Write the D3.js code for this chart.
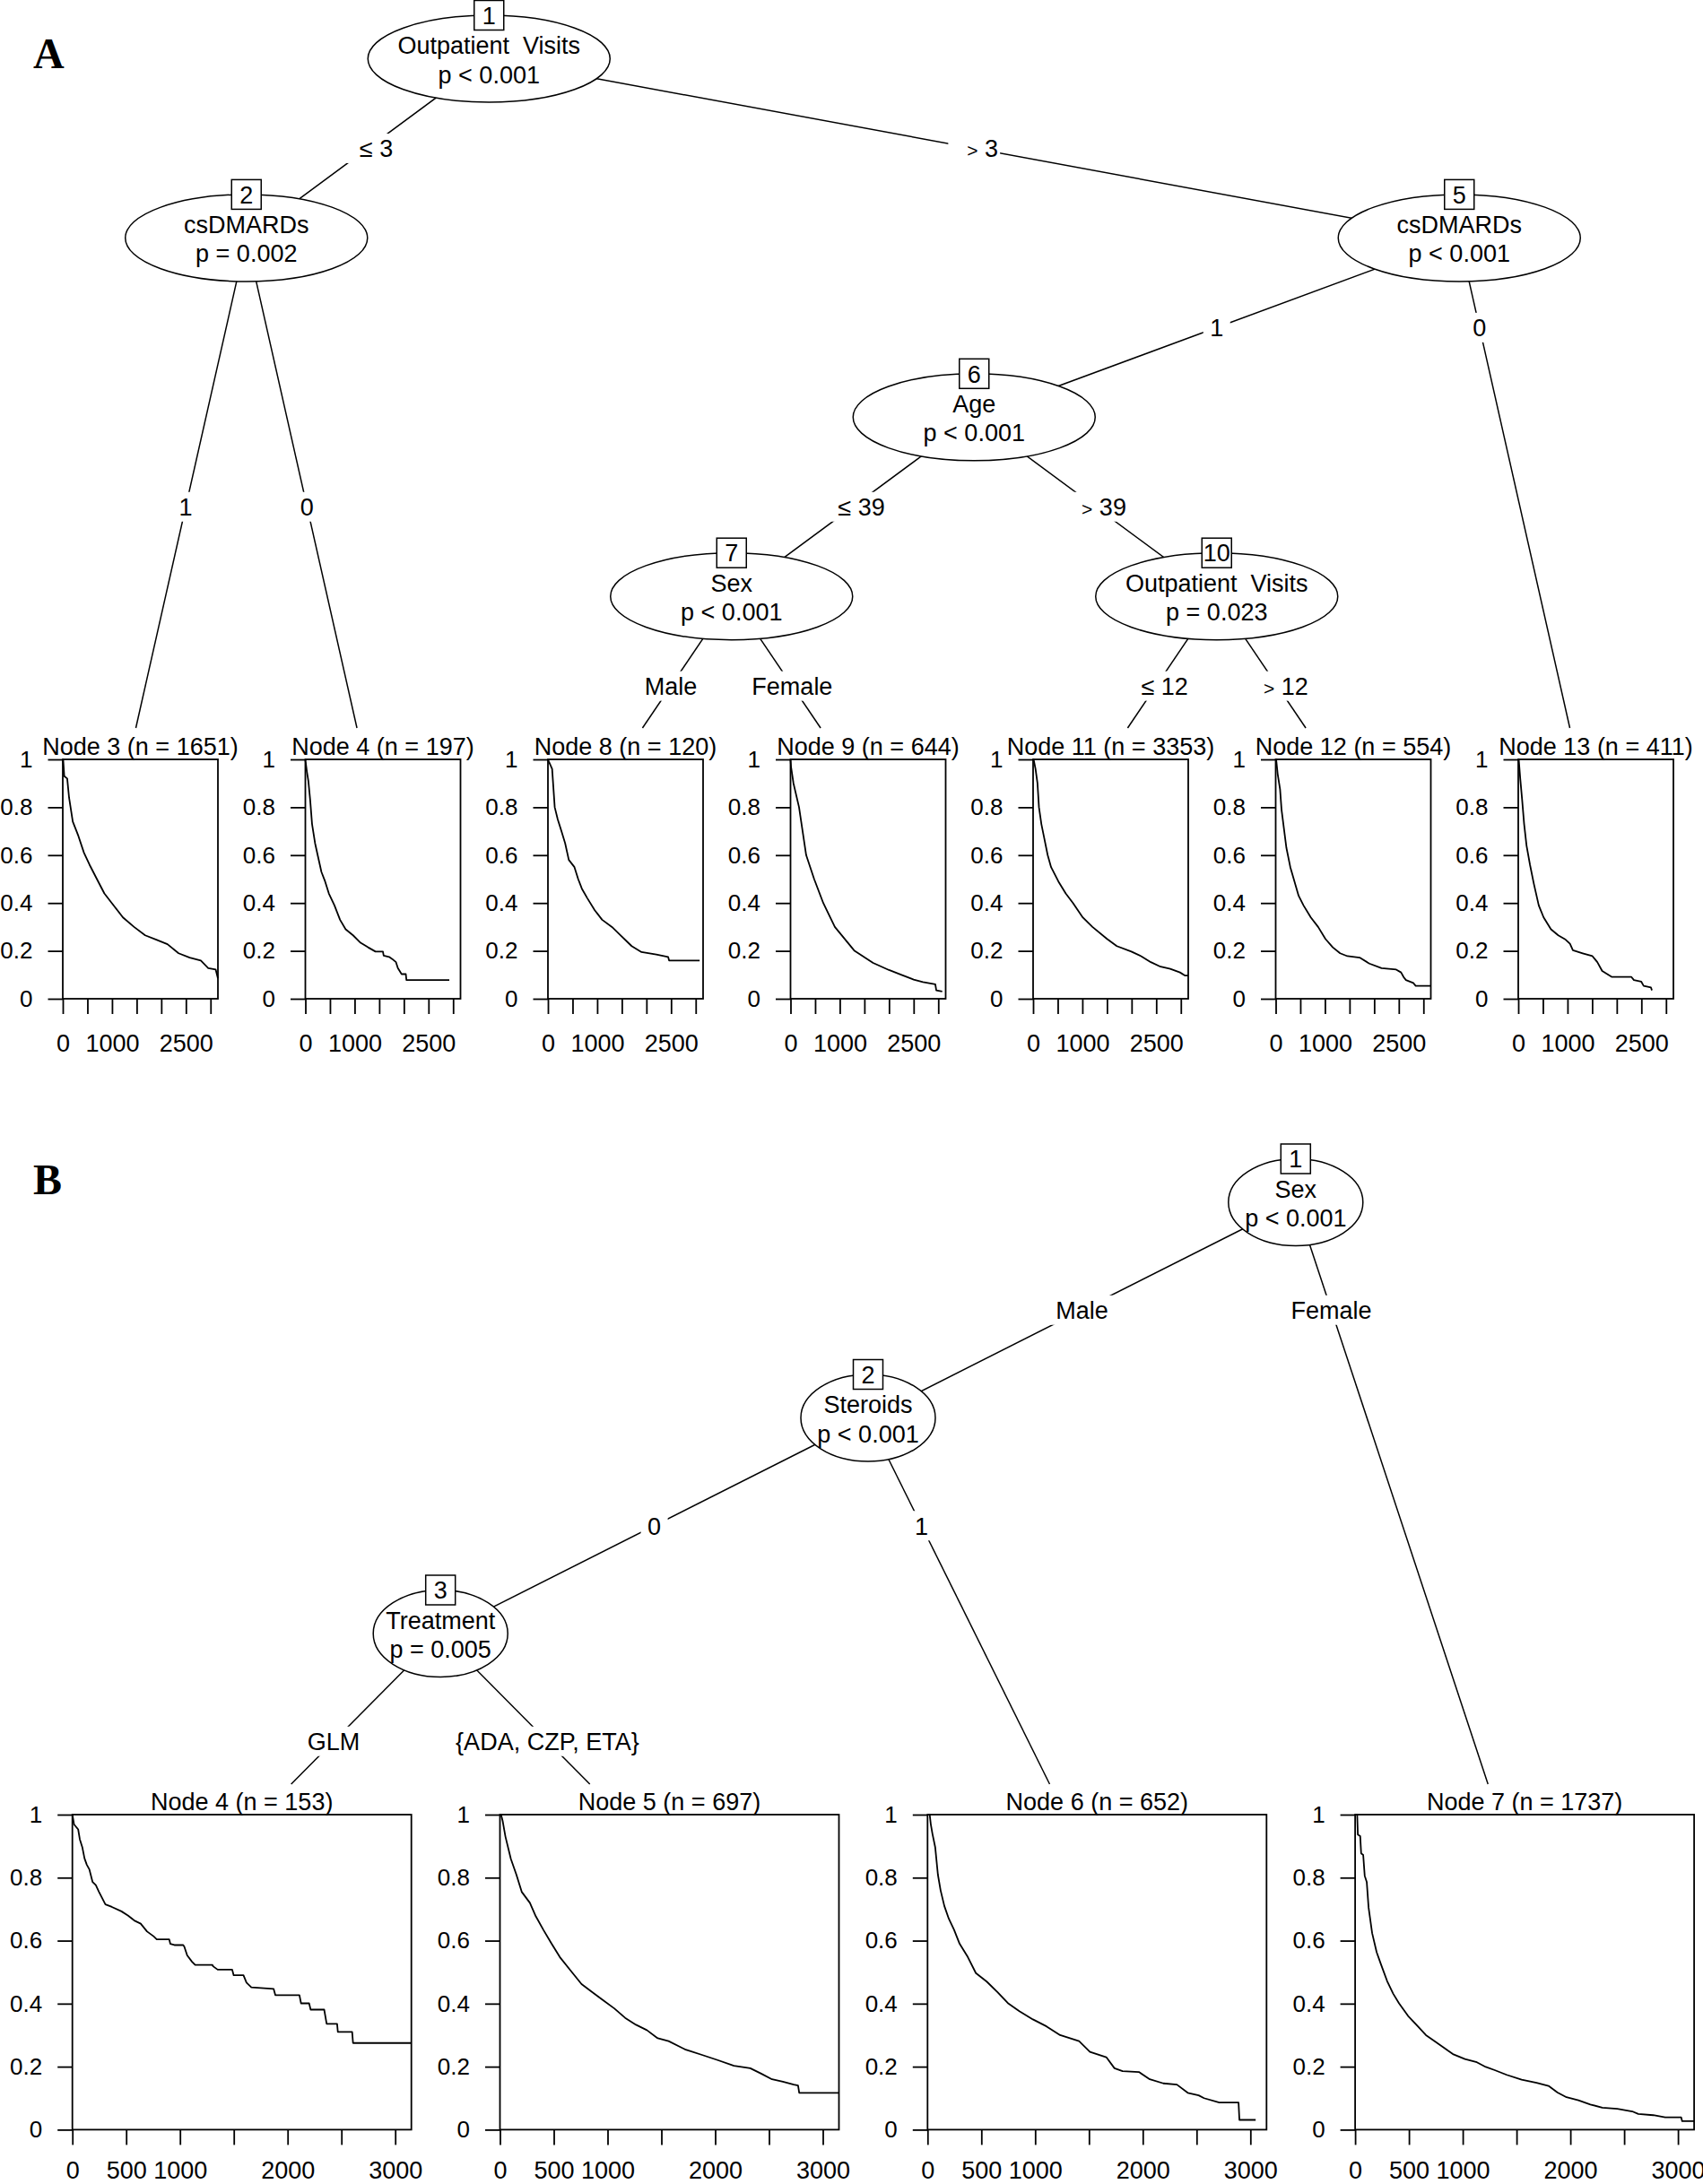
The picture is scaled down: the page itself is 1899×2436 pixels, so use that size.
<!DOCTYPE html>
<html>
<head>
<meta charset="utf-8">
<script src="https://cdn.jsdelivr.net/npm/d3@7"></script>
<style>
  body { margin: 0; background: #fff; }
  svg { display: block; }
  text { font-family: "Liberation Sans", Arial, Helvetica, sans-serif; font-size: 27px; fill: #000; }
</style>
</head>
<body>
<svg id="chart" width="1899" height="2436"></svg>
<script>
// ---- tree A (ctree, survival) ----
var nodesA = [
  {id: 1, kids: [2, 5], variable: "Outpatient  Visits", p: "p < 0.001", splits: ["≤ 3", "> 3"]},
  {id: 2, kids: [3, 4], variable: "csDMARDs", p: "p = 0.002", splits: ["1", "0"]},
  {id: 3, n: 1651},
  {id: 4, n: 197},
  {id: 5, kids: [6, 13], variable: "csDMARDs", p: "p < 0.001", splits: ["1", "0"]},
  {id: 6, kids: [7, 10], variable: "Age", p: "p < 0.001", splits: ["≤ 39", "> 39"]},
  {id: 7, kids: [8, 9], variable: "Sex", p: "p < 0.001", splits: ["Male", "Female"]},
  {id: 8, n: 120},
  {id: 9, n: 644},
  {id: 10, kids: [11, 12], variable: "Outpatient  Visits", p: "p = 0.023", splits: ["≤ 12", "> 12"]},
  {id: 11, n: 3353},
  {id: 12, n: 554},
  {id: 13, n: 411}
];

// ---- tree B ----
var nodesB = [
  {id: 1, kids: [2, 7], variable: "Sex", p: "p < 0.001", splits: ["Male", "Female"]},
  {id: 2, kids: [3, 6], variable: "Steroids", p: "p < 0.001", splits: ["0", "1"]},
  {id: 3, kids: [4, 5], variable: "Treatment", p: "p = 0.005", splits: ["GLM", "{ADA, CZP, ETA}"]},
  {id: 4, n: 153},
  {id: 5, n: 697},
  {id: 6, n: 652},
  {id: 7, n: 1737}
];

// Kaplan-Meier curves: [days, survival]
var kmA3 = [[0,1],[8,1],[30,0.93],[90,0.92],[128,0.84],[203,0.74],[317,0.68],[430,0.61],[543,0.56],[693,0.50],[844,0.44],[995,0.40],[1221,0.34],[1447,0.30],[1673,0.265],[1899,0.247],[2125,0.228],[2351,0.19],[2577,0.172],[2803,0.16],[2954,0.128],[3105,0.122],[3150,0.085]];
var kmA4 = [[0,1],[5,0.99],[30,0.95],[61,0.91],[98,0.83],[136,0.73],[197,0.65],[250,0.60],[326,0.53],[401,0.49],[477,0.44],[591,0.39],[704,0.33],[818,0.29],[969,0.265],[1121,0.234],[1272,0.215],[1424,0.197],[1575,0.197],[1590,0.18],[1700,0.175],[1764,0.166],[1840,0.153],[1878,0.128],[1954,0.103],[2040,0.103],[2052,0.078],[2923,0.078]];
var kmA8 = [[0,1],[20,0.99],[85,0.96],[138,0.80],[198,0.75],[274,0.70],[349,0.65],[424,0.58],[538,0.55],[614,0.50],[689,0.46],[800,0.42],[950,0.37],[1100,0.33],[1300,0.30],[1500,0.26],[1700,0.22],[1900,0.195],[2200,0.185],[2440,0.175],[2460,0.16],[3080,0.16]];
var kmA9 = [[0,1],[10,0.97],[60,0.90],[173,0.80],[318,0.60],[480,0.50],[665,0.40],[900,0.30],[1300,0.20],[1676,0.15],[2000,0.12],[2254,0.10],[2500,0.08],[2688,0.07],[2940,0.06],[2960,0.035],[3080,0.03]];
var kmA11 = [[0,1],[10,1],[49,0.96],[89,0.90],[119,0.80],[168,0.73],[217,0.68],[296,0.60],[365,0.55],[514,0.49],[662,0.44],[810,0.40],[1007,0.34],[1205,0.30],[1501,0.25],[1699,0.22],[1995,0.197],[2192,0.178],[2390,0.153],[2587,0.134],[2785,0.125],[2982,0.11],[3080,0.097],[3150,0.097]];
var kmA12 = [[0,1],[10,1],[40,0.94],[89,0.875],[119,0.79],[168,0.71],[218,0.63],[297,0.55],[367,0.50],[466,0.43],[565,0.39],[713,0.34],[862,0.30],[1010,0.25],[1159,0.215],[1308,0.19],[1456,0.178],[1704,0.172],[1902,0.147],[2150,0.128],[2447,0.122],[2546,0.11],[2600,0.09],[2645,0.078],[2794,0.066],[2843,0.054],[3150,0.054]];
var kmA13 = [[0,1],[10,1],[40,0.92],[79,0.83],[119,0.73],[168,0.64],[238,0.56],[317,0.48],[416,0.39],[515,0.34],[664,0.29],[812,0.265],[961,0.247],[1050,0.23],[1109,0.203],[1308,0.19],[1506,0.178],[1605,0.153],[1704,0.116],[1902,0.091],[2298,0.091],[2348,0.078],[2496,0.072],[2546,0.054],[2694,0.047],[2714,0.035]];
var kmB4 = [[0,1],[15,0.97],[18,0.968],[54,0.953],[69,0.922],[92,0.897],[113,0.861],[134,0.841],[158,0.826],[188,0.786],[218,0.776],[247,0.755],[277,0.735],[307,0.715],[367,0.707],[456,0.693],[516,0.68],[575,0.664],[635,0.654],[694,0.629],[754,0.614],[784,0.604],[900,0.604],[910,0.59],[948,0.586],[1030,0.586],[1040,0.581],[1067,0.553],[1112,0.533],[1141,0.523],[1300,0.523],[1310,0.518],[1350,0.508],[1485,0.508],[1499,0.49],[1590,0.49],[1618,0.467],[1663,0.452],[1870,0.447],[1886,0.427],[2110,0.427],[2125,0.401],[2200,0.401],[2214,0.381],[2340,0.381],[2363,0.336],[2460,0.336],[2467,0.31],[2600,0.31],[2608,0.275],[3150,0.275]];
var kmB5 = [[0,1],[10,1],[25,0.98],[51,0.93],[101,0.86],[152,0.81],[202,0.755],[278,0.72],[329,0.68],[404,0.634],[480,0.59],[556,0.548],[657,0.505],[758,0.462],[860,0.436],[961,0.41],[1062,0.385],[1163,0.355],[1264,0.333],[1365,0.316],[1466,0.29],[1567,0.281],[1719,0.255],[1871,0.238],[2022,0.221],[2174,0.203],[2326,0.195],[2427,0.178],[2528,0.16],[2629,0.152],[2730,0.143],[2770,0.14],[2781,0.117],[3150,0.117]];
var kmB6 = [[0,1],[20,1],[30,0.97],[45,0.94],[71,0.897],[96,0.81],[121,0.76],[156,0.71],[197,0.67],[247,0.634],[298,0.59],[374,0.548],[449,0.497],[550,0.47],[651,0.436],[752,0.40],[853,0.376],[979,0.35],[1105,0.328],[1232,0.30],[1408,0.281],[1509,0.247],[1661,0.23],[1737,0.195],[1812,0.186],[1964,0.183],[2065,0.16],[2191,0.147],[2317,0.143],[2418,0.117],[2519,0.109],[2569,0.10],[2711,0.086],[2890,0.086],[2898,0.031],[3049,0.031]];
var kmB7 = [[0,1],[19,1],[25,0.937],[47,0.932],[56,0.877],[75,0.872],[89,0.806],[108,0.786],[125,0.705],[158,0.624],[200,0.563],[242,0.523],[297,0.472],[353,0.432],[408,0.401],[492,0.361],[575,0.331],[658,0.30],[742,0.28],[825,0.26],[908,0.24],[1020,0.224],[1131,0.214],[1214,0.199],[1297,0.189],[1408,0.174],[1547,0.159],[1686,0.149],[1797,0.139],[1881,0.118],[1964,0.103],[2075,0.093],[2186,0.08],[2297,0.07],[2436,0.066],[2575,0.058],[2631,0.05],[2770,0.046],[2881,0.039],[3030,0.039],[3039,0.027],[3150,0.027]];

var curvesA = new Map([[3, kmA3], [4, kmA4], [8, kmA8], [9, kmA9], [11, kmA11], [12, kmA12], [13, kmA13]]);
var curvesB = new Map([[4, kmB4], [5, kmB5], [6, kmB6], [7, kmB7]]);

// axis ticks
var survTicks = [0, 0.2, 0.4, 0.6, 0.8, 1];
var timeTicks = [0, 500, 1000, 1500, 2000, 2500, 3000];
var timeLabelsA = [0, 1000, 2500];
var timeLabelsB = [0, 500, 1000, 2000, 3000];
var timeMax = 3150;

var svg = d3.select("#chart");

var panels = [
  {letter: "A", letterY: 76, nodes: nodesA, curves: curvesA, xLabels: timeLabelsA,
   x0: 4.25, unit: 270.5, y0: 65.5, step: 199.9, rx: 135, ry: 48.5,
   vpTop: 812, boxTop: 847, boxH: 267, boxW: 173, boxShift: 17, xPad: 23},
  {letter: "B", letterY: 1332, nodes: nodesB, curves: curvesB, xLabels: timeLabelsB,
   x0: 14.4, unit: 476.8, y0: 1341, step: 240.5, rx: 75, ry: 48.5,
   vpTop: 1990, boxTop: 2024, boxH: 351.4, boxW: 378, boxShift: 16.9, xPad: 18}
];

panels.forEach(drawPanel);

function drawPanel(cfg) {
  var byId = new Map(cfg.nodes.map(function(d) { return [d.id, d]; }));
  function nterm(n) { return n.kids ? d3.sum(n.kids, function(k) { return nterm(byId.get(k)); }) : 1; }
  function depthOf(n, d) { return n.kids ? d3.max(n.kids, function(k) { return depthOf(byId.get(k), d + 1); }) : d; }

  var root = byId.get(1);
  var nT = nterm(root), tDepth = depthOf(root, 0);
  var xs = d3.scaleLinear().domain([0, nT]).range([cfg.x0, cfg.x0 + nT * cfg.unit]);
  var ys = d3.scaleLinear().domain([0, tDepth]).range([cfg.y0, cfg.y0 + tDepth * cfg.step]);

  // party-style layout: node sits at the share of left leaves
  function place(n, lo, hi, depth) {
    if (!n.kids) { n.u = (lo + hi) / 2; n.depth = tDepth; return; }
    var l = byId.get(n.kids[0]), r = byId.get(n.kids[1]);
    var nl = nterm(l), nr = nterm(r);
    n.u = lo + nl / (nl + nr) * (hi - lo);
    n.depth = depth;
    place(l, lo, n.u, depth + 1);
    place(r, n.u, hi, depth + 1);
  }
  place(root, 0, nT, 0);

  var g = svg.append("g");
  var inner = cfg.nodes.filter(function(d) { return d.kids; });
  var leaves = cfg.nodes.filter(function(d) { return !d.kids; });

  // panel letter
  g.append("text")
    .attr("x", 37).attr("y", cfg.letterY)
    .style("font-family", "'Liberation Serif', 'Times New Roman', serif")
    .style("font-weight", "bold").style("font-size", "48px")
    .text(cfg.letter);

  var gEdges = g.append("g"), gLabels = g.append("g"), gNodes = g.append("g"), gLeaves = g.append("g");

  inner.forEach(function(n) {
    var x0 = xs(n.u), y0 = ys(n.depth);
    var kids = n.kids.map(function(k) { return byId.get(k); });
    var bothTerm = kids.every(function(k) { return !k.kids; });
    kids.forEach(function(k, i) {
      var x1 = xs(k.u), y1 = ys(k.depth);
      var yEnd = k.kids ? y1 : cfg.vpTop;
      var xEnd = x0 + (x1 - x0) * (yEnd - y0) / (y1 - y0);
      gEdges.append("line")
        .attr("x1", x0).attr("y1", y0).attr("x2", xEnd).attr("y2", yEnd)
        .attr("stroke", "#000").attr("stroke-width", 1.5);

      var ly = bothTerm ? (y0 + y1) / 2 : y0 + cfg.step / 2;
      var lx = x0 + (x1 - x0) * (ly - y0) / (y1 - y0);
      drawSplit(gLabels, n.splits[i], lx, ly);
    });

    var ng = gNodes.append("g").attr("transform", "translate(" + x0 + "," + y0 + ")");
    ng.append("ellipse").attr("rx", cfg.rx).attr("ry", cfg.ry)
      .attr("fill", "#fff").attr("stroke", "#000").attr("stroke-width", 1.5);
    ng.append("text").attr("text-anchor", "middle").attr("y", -5.5)
      .style("white-space", "pre").text(n.variable);
    ng.append("text").attr("text-anchor", "middle").attr("y", 27).text(n.p);
    ng.append("rect").attr("x", -16.5).attr("y", -cfg.ry - 16.5).attr("width", 33).attr("height", 33)
      .attr("fill", "#fff").attr("stroke", "#000").attr("stroke-width", 1.5);
    ng.append("text").attr("text-anchor", "middle").attr("y", -cfg.ry + 9.7).text(n.id);
  });

  leaves.forEach(function(k) {
    var cx = xs(k.u) + cfg.boxShift;
    var left = cx - cfg.boxW / 2, top = cfg.boxTop, bottom = cfg.boxTop + cfg.boxH;
    var xk = d3.scaleLinear().domain([0, timeMax]).range([left, left + cfg.boxW]);
    var yk = d3.scaleLinear().domain([0, 1]).range([bottom, top]);
    var lg = gLeaves.append("g");

    lg.append("text").attr("x", cx).attr("y", top - 5.5).attr("text-anchor", "middle")
      .text("Node " + k.id + " (n = " + k.n + ")");

    var ay = lg.append("g").attr("transform", "translate(" + left + ",0)")
      .call(d3.axisLeft(yk).tickValues(survTicks).tickSize(16.5).tickPadding(17)
        .tickFormat(d3.format("~g")));
    var ax = lg.append("g").attr("transform", "translate(0," + bottom + ")")
      .call(d3.axisBottom(xk).tickValues(timeTicks).tickSize(17).tickPadding(cfg.xPad)
        .tickFormat(function(d) { return cfg.xLabels.indexOf(d) >= 0 ? d : ""; }));
    [ay, ax].forEach(function(a, i) {
      a.select(".domain").remove();
      a.selectAll("line").attr("stroke", "#000").attr("stroke-width", 1.8);
      a.selectAll("text").style("font-size", i === 0 ? "26px" : "27px")
        .style("font-family", "'Liberation Sans', Arial, sans-serif").attr("fill", "#000");
      a.attr("font-size", null).attr("font-family", null);
    });

    lg.append("path").datum(cfg.curves.get(k.id))
      .attr("fill", "none").attr("stroke", "#000").attr("stroke-width", 1.8)
      .attr("stroke-linejoin", "round")
      .attr("d", d3.line().x(function(d) { return xk(d[0]); }).y(function(d) { return yk(d[1]); }));

    lg.append("rect").attr("x", left).attr("y", top).attr("width", cfg.boxW).attr("height", cfg.boxH)
      .attr("fill", "none").attr("stroke", "#000").attr("stroke-width", 1.8);
  });
}

// edge label with white backing; relational splits carry a phantom "0" on the left
function drawSplit(parent, label, lx, ly) {
  var lg = parent.append("g").attr("transform", "translate(" + lx + "," + ly + ")");
  var rect = lg.append("rect").attr("fill", "#fff");
  var t = lg.append("text").attr("text-anchor", "middle").attr("y", 10);
  var rel = /^[≤>]/.test(label);
  if (rel) {
    var sym = label.charAt(0), rest = label.slice(1);
    t.append("tspan").style("font-size", sym === ">" ? "21px" : "27px").text(sym);
    t.append("tspan").style("white-space", "pre").text(rest);
  } else {
    t.text(label);
  }
  var w = t.node().getComputedTextLength();
  var bw = rel ? w + 23 : w + 15;
  if (rel) t.attr("x", 9.5);
  rect.attr("x", -bw / 2).attr("y", -16.5).attr("width", bw).attr("height", 33);
}
</script>
</body>
</html>
